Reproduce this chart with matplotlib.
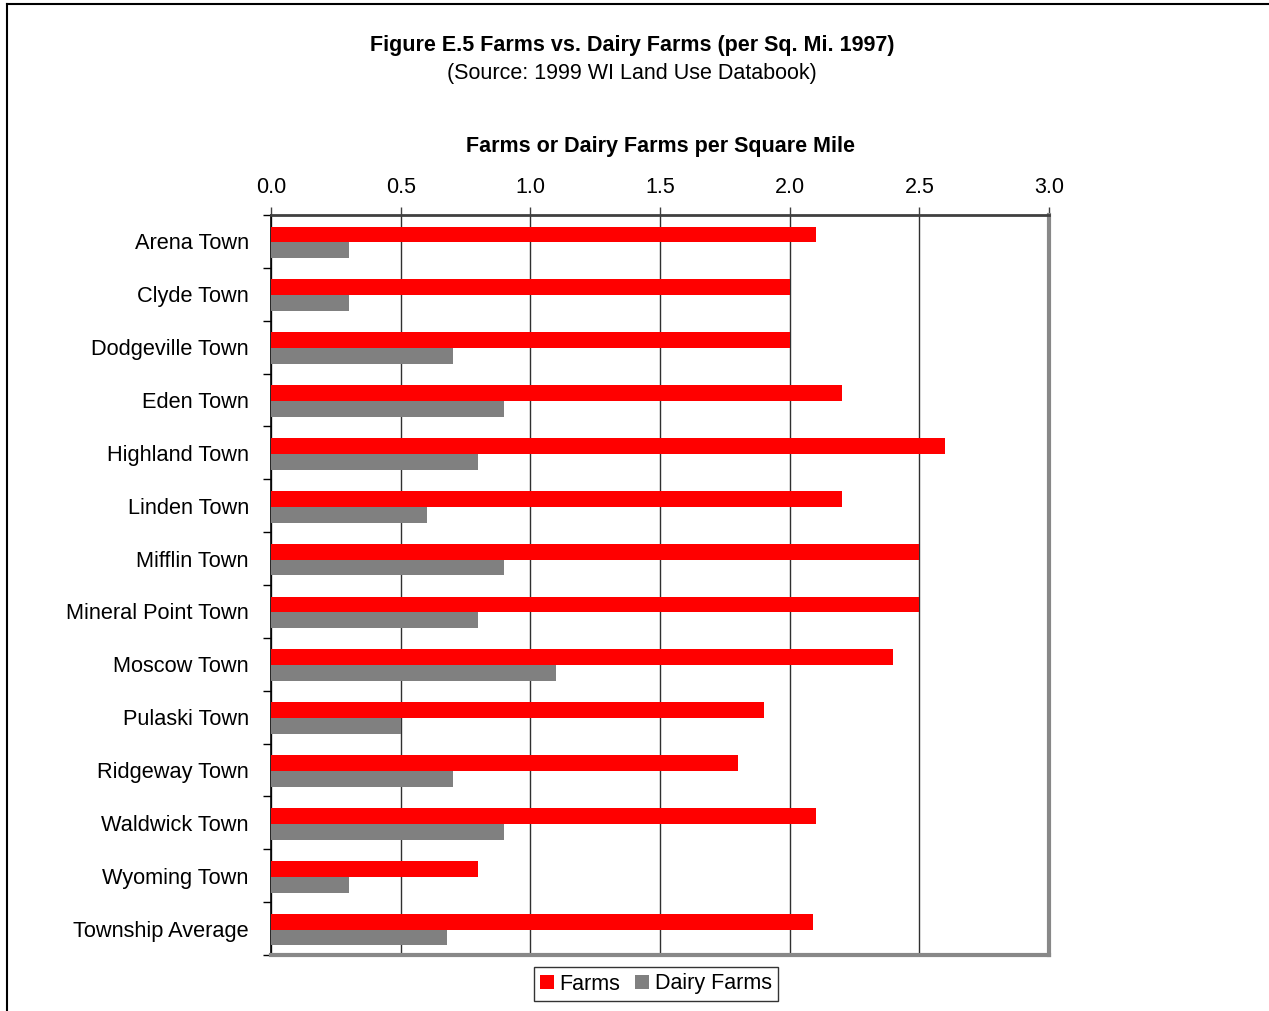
import matplotlib
matplotlib.use("Agg")
import matplotlib.pyplot as plt
from matplotlib.lines import Line2D
import numpy as np

plt.rcParams['font.family'] = ['Liberation Sans', 'DejaVu Sans']

# data
towns = ['Arena Town', 'Clyde Town', 'Dodgeville Town', 'Eden Town', 'Highland Town',
         'Linden Town', 'Mifflin Town', 'Mineral Point Town', 'Moscow Town',
         'Pulaski Town', 'Ridgeway Town', 'Waldwick Town', 'Wyoming Town',
         'Township Average']
farms = [2.1, 2.0, 2.0, 2.2, 2.6, 2.2, 2.5, 2.5, 2.4, 1.9, 1.8, 2.1, 0.8, 2.09]
dairy_farms = [0.3, 0.3, 0.7, 0.9, 0.8, 0.6, 0.9, 0.8, 1.1, 0.5, 0.7, 0.9, 0.3, 0.68]
x_ticks = [0.0, 0.5, 1.0, 1.5, 2.0, 2.5, 3.0]

W, H = 1269, 1011
fig = plt.figure(figsize=(W / 100, H / 100), dpi=100)
ax = fig.add_axes([271 / W, 1 - 955 / H, (1049 - 271) / W, (955 - 215) / H])

y = np.arange(len(towns))
bh = 0.3
ax.barh(y - bh / 2 + 0.02, farms, height=bh, color='#ff0000', label='Farms', zorder=3)
ax.barh(y + bh / 2 + 0.02, dairy_farms, height=bh, color='#808080', label='Dairy Farms', zorder=3)

ax.set_xlim(0, 3.0)
ax.set_ylim(len(towns) - 0.5, -0.5)
ax.xaxis.tick_top()
ax.xaxis.set_label_position('top')
ax.set_xticks(x_ticks)
ax.set_xticklabels([f'{v:.1f}' for v in x_ticks], fontsize=15.5)
ax.tick_params(axis='x', length=6, width=1, color='#404040', pad=6)
ax.set_xlabel('Farms or Dairy Farms per Square Mile', fontsize=15.5, fontweight='bold', labelpad=18)

# category labels in the middle of each band, ticks on band boundaries
ax.set_yticks(y)
ax.set_yticklabels(towns, fontsize=15.7)
ax.tick_params(axis='y', which='major', length=0, pad=16)
ax.set_yticks(np.arange(-0.5, len(towns) + 0.5, 1), minor=True)
ax.tick_params(axis='y', which='minor', length=6, width=1, color='black')

ax.grid(axis='x', color='#303030', linewidth=1, zorder=0)
ax.spines['left'].set_color('black')
ax.spines['left'].set_linewidth(1.2)
ax.spines['top'].set_color('#404040')
ax.spines['top'].set_linewidth(2)
for s in ('right', 'bottom'):
    ax.spines[s].set_color('#888888')
    ax.spines[s].set_linewidth(3)

fig.text(632 / W, 1 - 46 / H, 'Figure E.5 Farms vs. Dairy Farms (per Sq. Mi. 1997)',
         ha='center', va='center', fontsize=15.5, fontweight='bold')
fig.text(632 / W, 1 - 73 / H, '(Source: 1999 WI Land Use Databook)',
         ha='center', va='center', fontsize=15.5)

leg = fig.legend(loc='center', bbox_to_anchor=(656 / W, 1 - 984 / H), ncol=2,
                 fontsize=15.5, frameon=True, fancybox=False, edgecolor='black',
                 handlelength=0.65, handleheight=0.65, handletextpad=0.25,
                 columnspacing=0.7, borderpad=0.3, borderaxespad=0)
leg.get_frame().set_linewidth(1)

# outer chart border (top and left edges visible)
fig.add_artist(Line2D([7 / W, 7 / W], [0, 1 - 4 / H], transform=fig.transFigure,
                      color='black', linewidth=1.5))
fig.add_artist(Line2D([7 / W, 1], [1 - 4 / H, 1 - 4 / H], transform=fig.transFigure,
                      color='black', linewidth=1.5))

fig.savefig('out.png', dpi=100, facecolor='white')
